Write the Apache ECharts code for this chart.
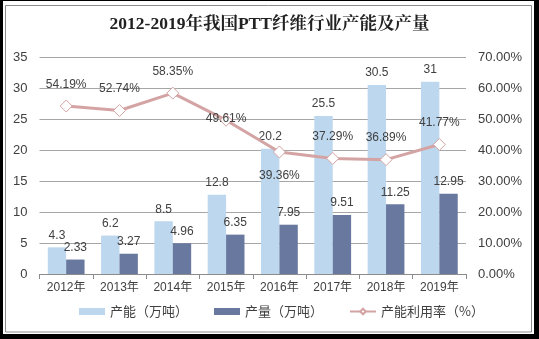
<!DOCTYPE html>
<html>
<head>
<meta charset="utf-8">
<script src="https://cdn.jsdelivr.net/npm/echarts@6/dist/echarts.min.js"></script>
<style>
  html, body { margin: 0; padding: 0; background: #fff; }
  #chart { width: 539px; height: 339px; }
</style>
</head>
<body>
<div id="chart"></div>
<script>
// PTT fibre capacity, output and utilisation, 2012-2019
const years = ['2012年', '2013年', '2014年', '2015年', '2016年', '2017年', '2018年', '2019年'];
const capacity = [4.3, 6.2, 8.5, 12.8, 20.2, 25.5, 30.5, 31];
const output = [2.33, 3.27, 4.96, 6.35, 7.95, 9.51, 11.25, 12.95];
const utilisation = [54.19, 52.74, 58.35, 49.61, 39.36, 37.29, 36.89, 41.77];
const leftTicks = [0, 35, 5];
const rightTicks = [0, 70, 10];

const textColor = '#404040';
const numFont = '"Liberation Sans", Arial, "Noto Sans CJK SC", sans-serif';
const lineColor = '#D4A3A3';

// label placement tweaks for the utilisation line
const utilLabelPos = { 3: 'inside', 4: 'bottom' };

const chart = echarts.init(document.getElementById('chart'));
chart.setOption({
  animation: false,
  textStyle: { fontFamily: numFont },
  title: {
    text: '2012-2019年我国PTT纤维行业产能及产量',
    left: 'center',
    top: 11,
    textStyle: {
      fontFamily: '"Liberation Serif", "Noto Serif CJK SC", "Noto Sans CJK SC", serif',
      fontSize: 17.5,
      fontWeight: 'bold',
      color: '#222'
    }
  },
  graphic: [
    { type: 'rect', shape: { x: 0, y: 0, width: 3, height: 339 }, style: { fill: '#000' }, silent: true },
    { type: 'rect', shape: { x: 0, y: 0, width: 539, height: 1 }, style: { fill: '#000' }, silent: true },
    { type: 'rect', shape: { x: 534, y: 0, width: 5, height: 339 }, style: { fill: '#000' }, silent: true },
    { type: 'rect', shape: { x: 0, y: 334, width: 539, height: 5 }, style: { fill: '#000' }, silent: true },
    { type: 'rect', shape: { x: 5.5, y: 5.5, width: 526, height: 326.5 }, style: { fill: 'none', stroke: '#8c8c8c', lineWidth: 1 }, silent: true }
  ],
  grid: { left: 39.5, right: 73, top: 57, bottom: 65, containLabel: false },
  legend: {
    bottom: 16,
    left: 74,
    itemGap: 26,
    itemWidth: 26,
    itemHeight: 7,
    textStyle: { fontFamily: '"Noto Sans CJK SC", sans-serif', fontSize: 13, color: textColor },
    data: [
      { name: '产能（万吨）', icon: 'rect' },
      { name: '产量（万吨）', icon: 'rect' },
      { name: '产能利用率（%）' }
    ]
  },
  xAxis: {
    type: 'category',
    data: years,
    axisLine: { lineStyle: { color: '#8c8c8c' } },
    axisTick: { show: true, length: 5, lineStyle: { color: '#8c8c8c' } },
    axisLabel: { color: textColor, fontSize: 12, margin: 8, fontFamily: numFont }
  },
  yAxis: [
    {
      type: 'value',
      min: leftTicks[0], max: leftTicks[1], interval: leftTicks[2],
      axisLine: { show: false },
      axisTick: { show: false },
      axisLabel: { color: textColor, fontSize: 13, margin: 12 },
      splitLine: { lineStyle: { color: '#a6a6a6' } }
    },
    {
      type: 'value',
      min: rightTicks[0], max: rightTicks[1], interval: rightTicks[2],
      axisLine: { show: false },
      axisTick: { show: false },
      splitLine: { show: false },
      axisLabel: {
        color: textColor, fontSize: 13, margin: 12,
        formatter: v => v.toFixed(2) + '%'
      }
    }
  ],
  series: [
    {
      name: '产能（万吨）',
      type: 'bar',
      data: capacity,
      barGap: '0%',
      barCategoryGap: '31%',
      itemStyle: { color: '#BDD7EE' },
      label: { show: true, position: 'top', distance: 6, color: textColor, fontSize: 12 }
    },
    {
      name: '产量（万吨）',
      type: 'bar',
      data: output,
      itemStyle: { color: '#68789F' },
      label: { show: true, position: 'top', distance: 6, color: textColor, fontSize: 12 }
    },
    {
      name: '产能利用率（%）',
      type: 'line',
      yAxisIndex: 1,
      data: utilisation.map((v, i) => utilLabelPos[i]
        ? { value: v, label: { position: utilLabelPos[i], offset: utilLabelPos[i] === 'inside' ? [0, -2] : [0, 2] } }
        : v),
      symbol: 'diamond',
      symbolSize: 12,
      lineStyle: { color: lineColor, width: 3 },
      itemStyle: { color: '#fff', borderColor: lineColor, borderWidth: 1 },
      label: {
        show: true, position: 'top', distance: 9, color: textColor, fontSize: 12,
        formatter: p => p.value.toFixed(2) + '%'
      },
      z: 5
    }
  ]
});
</script>
</body>
</html>
